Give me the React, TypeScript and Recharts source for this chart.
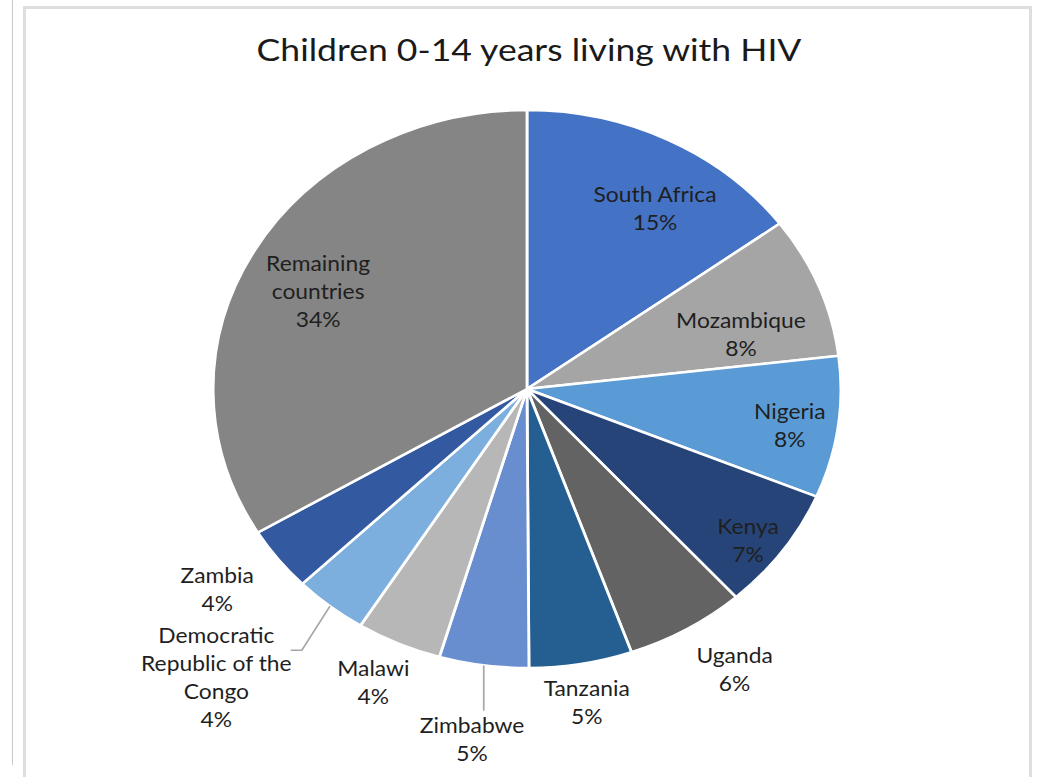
import React from "react"
import { PieChart, Pie, Cell } from "recharts"

// the whole drawing is widened horizontally, so the pie reads as an ellipse
const SX = 1.125
const WIDTH = 1037
const HEIGHT = 777
const FONT = "Lato, 'Liberation Sans', sans-serif"

const countries = [
  "South Africa",
  "Mozambique",
  "Nigeria",
  "Kenya",
  "Uganda",
  "Tanzania",
  "Zimbabwe",
  "Malawi",
  "Democratic Republic of the Congo",
  "Zambia",
  "Remaining countries",
]

// share of children 0-14 living with HIV, in percent
const shares = [14.9, 8.2, 8.2, 7.1, 6.2, 5.3, 4.6, 4.4, 3.8, 3.7, 33.6]

const sliceColors = [
  "#4472C4",
  "#A5A5A5",
  "#5B9BD5",
  "#264478",
  "#636363",
  "#255E91",
  "#698ED0",
  "#B7B7B7",
  "#7CAFDD",
  "#335AA1",
  "#858585",
]

const wrappedNames: Record<string, string[]> = {
  "Democratic Republic of the Congo": ["Democratic", "Republic of the", "Congo"],
  "Remaining countries": ["Remaining", "countries"],
}

// label distance (fraction of the radius) and clockwise nudge in degrees
const labelPlacement: Record<string, { r: number; da: number }> = {
  "South Africa": { r: 0.763, da: 5.5 },
  Mozambique: { r: 0.709, da: 5.7 },
  Nigeria: { r: 0.848, da: 1.1 },
  Kenya: { r: 0.89, da: 2.2 },
  Uganda: { r: 1.205, da: -2.7 },
  Tanzania: { r: 1.141, da: 0.3 },
  Zimbabwe: { r: 1.269, da: 0 },
  Malawi: { r: 1.162, da: 0.8 },
  "Democratic Republic of the Congo": { r: 1.433, da: 4.8 },
  Zambia: { r: 1.222, da: 1.5 },
  "Remaining countries": { r: 0.751, da: -1.9 },
}

const data = countries.map((name, i) => ({ name, value: shares[i] }))

const LINE = 28
const RAD = Math.PI / 180
const TEXT = "#1f1f1f"

const polar = (cx: number, cy: number, r: number, angle: number) => ({
  x: cx + Math.cos(-angle * RAD) * r,
  y: cy + Math.sin(-angle * RAD) * r,
})

const renderLabel = (props: any) => {
  const { cx, cy, midAngle, outerRadius, value, name } = props
  const place = labelPlacement[name] ?? { r: 0.7, da: 0 }
  const pos = polar(cx, cy, outerRadius * place.r, midAngle - place.da)
  const lines = [...(wrappedNames[name] ?? [name]), `${Math.round(value)}%`]
  const firstBaseline = pos.y - ((lines.length - 1) * LINE) / 2 + 7
  const rim = polar(cx, cy, outerRadius, midAngle)

  let leader: React.ReactNode = null
  if (name === "Zimbabwe") {
    leader = (
      <line x1={rim.x} y1={rim.y} x2={rim.x} y2={firstBaseline - 22} stroke="#a6a6a6" strokeWidth={1.5} />
    )
  } else if (name === "Democratic Republic of the Congo") {
    const ly = firstBaseline + 7
    leader = (
      <polyline
        points={`${rim.x},${rim.y} ${pos.x + 76},${ly} ${pos.x + 66},${ly}`}
        fill="none"
        stroke="#a6a6a6"
        strokeWidth={1.5}
      />
    )
  }

  return (
    <g>
      {leader}
      <text x={pos.x} y={firstBaseline} textAnchor="middle" fontSize={20.3} fontFamily={FONT} fill={TEXT}>
        {lines.map((line, i) => (
          <tspan key={i} x={pos.x} y={firstBaseline + i * LINE}>
            {line}
          </tspan>
        ))}
      </text>
    </g>
  )
}

export default function App() {
  const innerWidth = WIDTH / SX
  return (
    <div style={{ position: "fixed", left: 0, top: 0, width: WIDTH, height: HEIGHT, overflow: "hidden", background: "#fff" }}>
      <div style={{ position: "absolute", left: 12, top: 0, width: 1, height: 765, background: "#c8c8c8" }} />
      <div
        style={{
          position: "absolute",
          left: 23,
          top: 6,
          width: 1009,
          height: 800,
          border: "3px solid #dedede",
          boxSizing: "border-box",
        }}
      />
      <div
        style={{
          position: "absolute",
          left: 0,
          top: 0,
          width: innerWidth,
          height: HEIGHT,
          transform: `scaleX(${SX})`,
          transformOrigin: "0 0",
        }}
      >
        <svg width={innerWidth} height={80} style={{ position: "absolute", left: 0, top: 0 }}>
          <text x={529 / SX} y={61} textAnchor="middle" fontSize={31.6} fontFamily={FONT} fill="#1a1a1a">
            Children 0-14 years living with HIV
          </text>
        </svg>
        <div style={{ position: "absolute", left: 0, top: 0 }}>
          <PieChart width={innerWidth} height={HEIGHT} margin={{ top: 0, right: 0, bottom: 0, left: 0 }}>
            <Pie
              data={data}
              dataKey="value"
              nameKey="name"
              cx={527 / SX}
              cy={389}
              outerRadius={279}
              startAngle={90}
              endAngle={-270}
              stroke="#fff"
              strokeWidth={2.5}
              label={renderLabel}
              labelLine={false}
              isAnimationActive={false}
            >
              {data.map((d, i) => (
                <Cell key={d.name} fill={sliceColors[i]} />
              ))}
            </Pie>
          </PieChart>
        </div>
      </div>
    </div>
  )
}
